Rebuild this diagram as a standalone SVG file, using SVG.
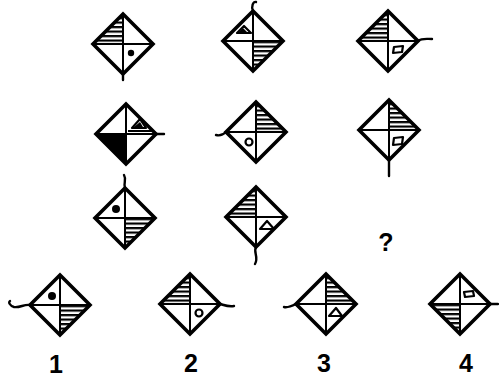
<svg xmlns="http://www.w3.org/2000/svg" xmlns:xlink="http://www.w3.org/1999/xlink" width="499" height="384" viewBox="0 0 499 384">
<style>
.o{fill:none;stroke:#000;stroke-width:3.6;stroke-linejoin:miter}
.c{stroke:#000;stroke-width:2;fill:none}
.h{fill:url(#hatch);stroke:none}
.t{fill:none;stroke:#000;stroke-width:2.4;stroke-linecap:round;stroke-linejoin:round}
.s{fill:none;stroke:#000;stroke-width:2.2;stroke-linejoin:round}
.k{fill:#000}
.lbl{font-family:"Liberation Sans Narrow","Liberation Sans",sans-serif;font-size:25px;font-weight:bold;fill:#000;text-anchor:middle}
</style>
<defs>
<pattern id="hatch" width="6" height="4.5" patternUnits="userSpaceOnUse"><rect x="0" y="0" width="6" height="2.2" fill="#000"/></pattern>
<g id="base">
<polygon class="o" points="0,-30 30,0 0,30 -30,0"/>
<line class="c" x1="0" y1="-30" x2="0" y2="30"/>
<line class="c" x1="-30" y1="0" x2="30" y2="0"/>
</g>
<polygon id="qTL" points="-30,0 0,-30 0,0"/>
<polygon id="qTR" points="0,-30 30,0 0,0"/>
<polygon id="qBR" points="30,0 0,30 0,0"/>
<polygon id="qBL" points="0,30 -30,0 0,0"/>
</defs>
<rect width="499" height="384" fill="#fff"/>
<g id="connectors"></g>

<g id="d1" transform="translate(123,44)">
<use xlink:href="#qTL" class="h"/>
<use xlink:href="#base"/>
<circle class="k" cx="8" cy="9" r="3.2"/>
<path class="t" d="M0,30 L0,36"/>
</g>

<g id="d2" transform="translate(253,41)">
<use xlink:href="#qBR" class="h"/>
<use xlink:href="#base"/>
<path class="s" d="M-16,-8 L-2,-8 L-9,-15 Z"/>
<path class="k" d="M-14,-9 L-6,-9 L-10,-13 Z"/>
<path class="t" d="M0,-30 C-2,-34 0,-40 3,-39"/>
</g>

<g id="d3" transform="translate(388,41)">
<use xlink:href="#qTL" class="h"/>
<use xlink:href="#base"/>
<path class="s" d="M6,6 L15,5 L14,11 L5,12 Z"/>
<path class="t" d="M30,0 C34,-3 38,-2 44,-2"/>
</g>

<g id="d4" transform="translate(126,134)">
<use xlink:href="#qBL" fill="#000"/>
<use xlink:href="#base"/>
<path class="s" d="M6,-6 L20,-6 L14,-15 Z"/>
<path class="k" d="M8,-7 L17,-7 L14,-12 Z"/>
<line class="c" x1="2" y1="-3" x2="26" y2="-3"/>
<path class="t" d="M30,0 L38,0"/>
</g>

<g id="d5" transform="translate(256,132)">
<use xlink:href="#qTR" class="h"/>
<use xlink:href="#base"/>
<circle class="s" cx="-7" cy="10" r="3.5"/>
<path class="t" d="M-30,0 C-33,3 -36,4 -40,3"/>
</g>

<g id="d6" transform="translate(389,130)">
<use xlink:href="#qTR" class="h"/>
<use xlink:href="#base"/>
<path class="s" d="M5,8 L14,7 L13,14 L4,15 Z"/>
<path class="t" d="M0,30 L0,46"/>
</g>

<g id="d7" transform="translate(125,218)">
<use xlink:href="#qBR" class="h"/>
<use xlink:href="#base"/>
<circle class="k" cx="-9" cy="-9" r="4"/>
<path class="t" d="M0,-30 C-2,-35 2,-38 -1,-43"/>
</g>

<g id="d8" transform="translate(256,217)">
<use xlink:href="#qTL" class="h"/>
<use xlink:href="#base"/>
<path class="s" d="M4,12 L18,12 L11,4 Z"/>
<path class="t" d="M0,30 C-3,35 3,40 -1,47"/>
</g>

<text class="lbl" x="386" y="251">?</text>

<g id="d9" transform="translate(60,305)">
<use xlink:href="#qBR" class="h"/>
<use xlink:href="#base"/>
<circle class="k" cx="-8" cy="-9" r="4"/>
<path class="t" d="M-30,0 C-36,-1 -40,3 -46,2 C-50,1 -52,-3 -50,-4"/>
</g>

<g id="d10" transform="translate(190,304)">
<use xlink:href="#qTL" class="h"/>
<use xlink:href="#base"/>
<circle class="s" cx="9" cy="9" r="3.5"/>
<path class="t" d="M30,0 C34,1 38,3 44,2"/>
</g>

<g id="d11" transform="translate(326,304)">
<use xlink:href="#qTR" class="h"/>
<use xlink:href="#base"/>
<path class="s" d="M3,12 L16,12 L10,4 Z"/>
<path class="t" d="M-30,0 C-34,2 -38,4 -42,3"/>
</g>

<g id="d12" transform="translate(460,304)">
<use xlink:href="#qBL" class="h"/>
<use xlink:href="#base"/>
<path class="s" d="M5,-7 L14,-8 L13,-13 L4,-12 Z"/>
<path class="t" d="M30,0 L38,0"/>
</g>

<text class="lbl" x="56" y="373">1</text>
<text class="lbl" x="191" y="372">2</text>
<text class="lbl" x="324" y="372">3</text>
<text class="lbl" x="466" y="372">4</text>
</svg>
